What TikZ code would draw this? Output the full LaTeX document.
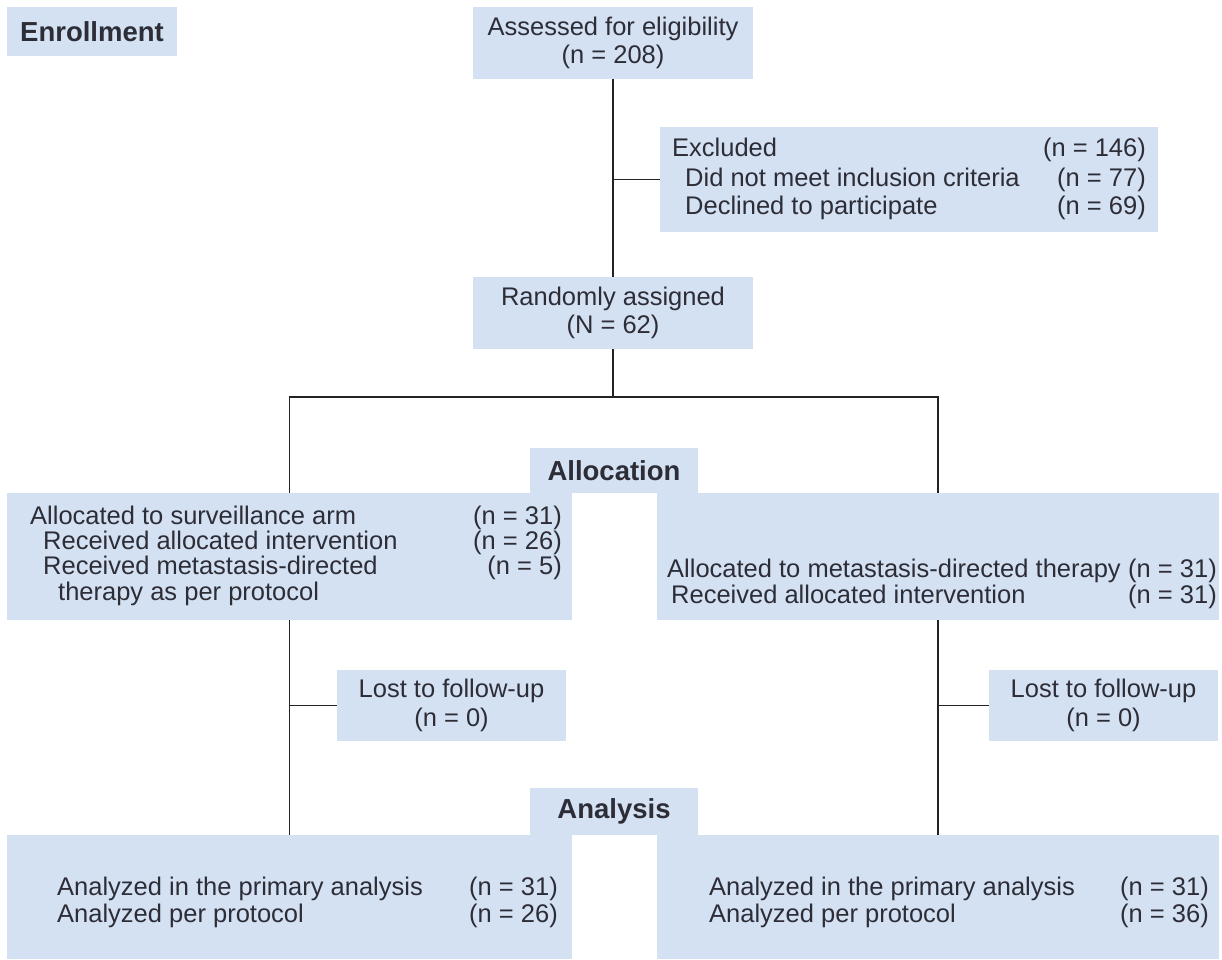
\documentclass[tikz,border=0pt]{standalone}
\usepackage{fontspec}
\setmainfont{Liberation Sans}
\definecolor{boxfill}{RGB}{212,225,242}
\definecolor{txtc}{RGB}{45,45,55}
\definecolor{lnc}{RGB}{35,35,35}
\newcommand\bodyfont{\fontsize{25.5}{28.5}\selectfont}
\newcommand\labelfont{\fontsize{27.5}{30}\selectfont\bfseries}
\tikzset{
  box/.style={fill=boxfill, draw=none, inner sep=0pt, text=txtc, font=\bodyfont, align=center},
  lbl/.style={box, font=\labelfont},
  conn/.style={draw=lnc, line width=1.8pt},
  tl/.style={text=txtc, font=\bodyfont, inner sep=0pt, anchor=base west},
  tr/.style={text=txtc, font=\bodyfont, inner sep=0pt, anchor=base east},
}
\begin{document}
\begin{tikzpicture}[x=1pt,y=-1pt]
\useasboundingbox (0,0) rectangle (1222,959);
% boxes
\node[lbl, minimum width=170pt, minimum height=49pt] (enroll) at (92,31.5) {Enrollment};
\node[box, minimum width=280pt, minimum height=72pt] (assess) at (613,43) {Assessed for eligibility\\(n = 208)};
\node[box, minimum width=498pt, minimum height=105pt] (excl) at (909,179.5) {};
\node[box, minimum width=280pt, minimum height=72pt] (random) at (613,313) {Randomly assigned\\(N = 62)};
\node[box, minimum width=565pt, minimum height=127pt] (allocL) at (289.5,556.5) {};
\node[box, minimum width=562pt, minimum height=127pt] (allocR) at (938,556.5) {};
\node[lbl, minimum width=168pt, minimum height=45pt] (alloclbl) at (614,470.5) {Allocation};
\node[box, minimum width=229pt, minimum height=71pt] (lostL) at (451.5,705.5) {Lost to follow-up\\(n = 0)};
\node[box, minimum width=229pt, minimum height=71pt] (lostR) at (1103.5,705.5) {Lost to follow-up\\(n = 0)};
\node[box, minimum width=565pt, minimum height=124pt] (anaL) at (289.5,897) {};
\node[box, minimum width=562pt, minimum height=124pt] (anaR) at (938,897) {};
\node[lbl, minimum width=168pt, minimum height=47pt] (analbl) at (614,811.5) {Analysis};
% connectors
\coordinate (bar) at (613,397);
\draw[conn] (assess.south) -- (random.north);
\draw[conn] (excl.west) -- (excl.west -| assess.south);
\draw[conn] (random.south) -- (bar);
\draw[conn] (allocL.north) -- (allocL.north |- bar) -- (allocR.north |- bar) -- (allocR.north);
\draw[conn] (allocL.south) -- (anaL.north);
\draw[conn] (allocR.south) -- (anaR.north);
\draw[conn] (lostL.west) -- (lostL.west -| allocL.south);
\draw[conn] (lostR.west) -- (lostR.west -| allocR.south);
% excluded texts
\node[tl] (ex1) at (672,156.5) {Excluded};
\node[tr] (ex1n) at (1146,156.5) {(n = 146)};
\node[tl] (ex2) at (685,186) {Did not meet inclusion criteria};
\node[tr] (ex2n) at (1146,186) {(n = 77)};
\node[tl] (ex3) at (685,214.5) {Declined to participate};
\node[tr] (ex3n) at (1146,214.5) {(n = 69)};
% left allocation texts
\node[tl] (al1) at (30,524) {Allocated to surveillance arm};
\node[tr] (al1n) at (562,524) {(n = 31)};
\node[tl] (al2) at (43,549) {Received allocated intervention};
\node[tr] (al2n) at (562,549) {(n = 26)};
\node[tl] (al3) at (43,574) {Received metastasis-directed};
\node[tr] (al3n) at (562,574) {(n = 5)};
\node[tl] (al4) at (58,600) {therapy as per protocol};
% right allocation texts
\node[tl] (ar1) at (667,577.5) {Allocated to metastasis-directed therapy};
\node[tr] (ar1n) at (1217,577.5) {(n = 31)};
\node[tl] (ar2) at (671,603.5) {Received allocated intervention};
\node[tr] (ar2n) at (1217,603.5) {(n = 31)};
% analysis texts
\node[tl] (nl1) at (57,895) {Analyzed in the primary analysis};
\node[tr] (nl1n) at (558,895) {(n = 31)};
\node[tl] (nl2) at (57,922.5) {Analyzed per protocol};
\node[tr] (nl2n) at (558,922.5) {(n = 26)};
\node[tl] (nr1) at (709,895) {Analyzed in the primary analysis};
\node[tr] (nr1n) at (1209,895) {(n = 31)};
\node[tl] (nr2) at (709,922.5) {Analyzed per protocol};
\node[tr] (nr2n) at (1209,922.5) {(n = 36)};
\end{tikzpicture}
\end{document}
